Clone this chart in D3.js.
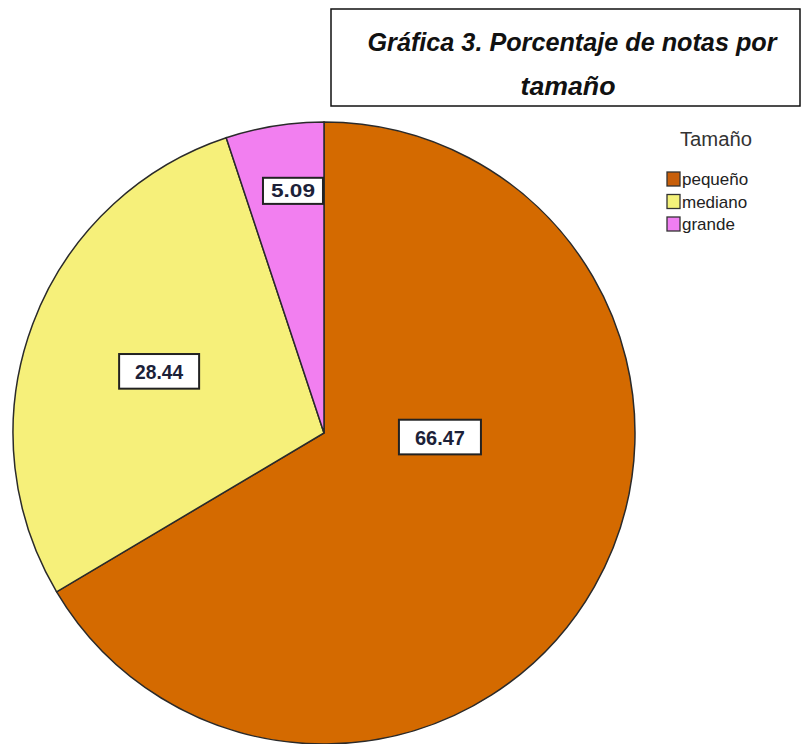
<!DOCTYPE html>
<html><head><meta charset="utf-8">
<script src="https://cdn.jsdelivr.net/npm/d3@7"></script>
<style>body{margin:0;background:#fff}</style>
</head><body>
<script>
const categories = ["pequeño", "mediano", "grande"];
const values = [66.47, 28.44, 5.09];
const colors = ["#d46a00", "#f6f07a", "#f27ff0"];
const legendSwatch = ["#c85f0a", "#f4f27a", "#f07ef2"];
const titleLines = ["Gráfica 3. Porcentaje de notas por", "tamaño"];
const legendTitle = "Tamaño";

// layout (not data)
const labelAngleDeg = [92, 290.5, 352.7];
const labelRadiusFrac = [0.373, 0.566, 0.785];
const labelFont = [21, 21, 18];
const labelTextW = [50, 48, 44];

const W = 803, H = 744;
const svg = d3.select("body").append("svg").attr("width", W).attr("height", H)
  .style("font-family", "'Liberation Sans', Arial, sans-serif");

const cx = 324, cy = 433, R = 311;
const pie = d3.pie().sort(null).value(d => d)(values);
const arc = d3.arc().innerRadius(0).outerRadius(R);

const g = svg.append("g").attr("transform", `translate(${cx},${cy})`);
g.selectAll("path").data(pie).join("path")
  .attr("d", arc)
  .attr("fill", (d, i) => colors[i])
  .attr("stroke", "#2a2a2a").attr("stroke-width", 1.5);

// labels
pie.forEach((d, i) => {
  const a = labelAngleDeg[i] * Math.PI / 180;
  const r = labelRadiusFrac[i] * R;
  const x = r * Math.sin(a), y = -r * Math.cos(a);
  const lg = g.append("g").attr("transform", `translate(${x},${y})`);
  const fs = labelFont[i];
  const bw = labelTextW[i] + (i === 2 ? 16 : 32), bh = fs * (i === 2 ? 1.45 : 1.65);
  lg.append("rect")
    .attr("x", -bw / 2).attr("y", -bh / 2)
    .attr("width", bw).attr("height", bh)
    .attr("fill", "#fff").attr("stroke", "#222").attr("stroke-width", 2);
  lg.append("text").text(values[i].toFixed(2))
    .attr("text-anchor", "middle").attr("dy", "0.36em")
    .attr("font-size", fs).attr("font-weight", "bold")
    .attr("fill", "#1c2138")
    .style("font-family", "'Liberation Sans Narrow', 'Liberation Sans', Arial, sans-serif")
    .attr("textLength", labelTextW[i]).attr("lengthAdjust", "spacingAndGlyphs");
});

// title box
svg.append("rect").attr("x", 331).attr("y", 9).attr("width", 469).attr("height", 97)
  .attr("fill", "#fff").attr("stroke", "#111").attr("stroke-width", 1.5);
const titleFont = "'Liberation Sans Narrow', 'Arial Narrow', 'Liberation Sans', Arial, sans-serif";
svg.append("text").text(titleLines[0]).attr("x", 572).attr("y", 51)
  .attr("text-anchor", "middle").attr("font-size", 26).attr("font-weight", "bold")
  .attr("font-style", "italic").attr("fill", "#111").style("font-family", titleFont)
  .attr("textLength", 409).attr("lengthAdjust", "spacingAndGlyphs");
svg.append("text").text(titleLines[1]).attr("x", 568).attr("y", 95)
  .attr("text-anchor", "middle").attr("font-size", 26).attr("font-weight", "bold")
  .attr("font-style", "italic").attr("fill", "#111").style("font-family", titleFont)
  .attr("textLength", 95).attr("lengthAdjust", "spacingAndGlyphs");

// legend
svg.append("text").text(legendTitle).attr("x", 716).attr("y", 146)
  .attr("text-anchor", "middle").attr("font-size", 20).attr("fill", "#333")
  .attr("textLength", 72).attr("lengthAdjust", "spacingAndGlyphs");
categories.forEach((c, i) => {
  const y = 172 + i * 22.5;
  svg.append("rect").attr("x", 667).attr("y", y).attr("width", 13).attr("height", 14)
    .attr("fill", legendSwatch[i]).attr("stroke", "#333").attr("stroke-width", 1.3);
  svg.append("text").text(c).attr("x", 682).attr("y", y + 13)
    .attr("font-size", 17).attr("fill", "#222");
});
</script>
</body></html>
